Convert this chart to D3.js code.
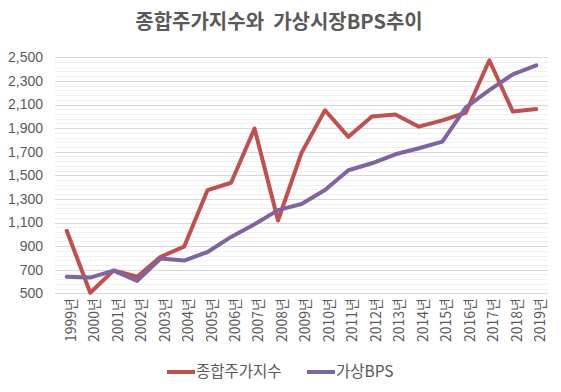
<!DOCTYPE html>
<html>
<head>
<meta charset="utf-8">
<script src="https://cdn.jsdelivr.net/npm/d3@7"></script>
<style>
  body { margin: 0; background: #fff; }
  svg text { font-family: "Noto Sans CJK KR", "Noto Sans", sans-serif; }
</style>
</head>
<body>
<div id="chart"></div>
<script>
var years = ["1999년","2000년","2001년","2002년","2003년","2004년","2005년","2006년","2007년","2008년","2009년",
  "2010년","2011년","2012년","2013년","2014년","2015년","2016년","2017년","2018년","2019년"];
var kospi = [1030, 505, 694, 640, 810, 895, 1375, 1437, 1897, 1117, 1690,
  2051, 1826, 1998, 2015, 1912, 1966, 2030, 2475, 2040, 2062];
var bps = [641, 633, 692, 605, 795, 777, 850, 978, 1085, 1205, 1257,
  1375, 1543, 1602, 1678, 1729, 1785, 2075, 2222, 2355, 2432];
var yTicks = [500, 700, 900, 1100, 1300, 1500, 1700, 1900, 2100, 2300, 2500];
var seriesNames = ["종합주가지수", "가상BPS"];
var seriesColors = ["#C0504D", "#8064A2"];

var W = 561, H = 392;
var plot = { left: 55, right: 548, top: 57.3, bottom: 293.3 };

var svg = d3.select("#chart").append("svg").attr("width", W).attr("height", H);

var x = d3.scaleBand().domain(years).range([plot.left, plot.right]).padding(0);
var y = d3.scaleLinear().domain([500, 2500]).range([plot.bottom, plot.top]);

// minor gridlines
svg.append("g").selectAll("line").data(d3.range(500, 2501, 40)).enter().append("line")
  .attr("x1", plot.left).attr("x2", plot.right)
  .attr("y1", function (d) { return Math.round(y(d)) + 0.5; })
  .attr("y2", function (d) { return Math.round(y(d)) + 0.5; })
  .attr("stroke", "#f0f0f0").attr("stroke-width", 1);

// major gridlines
svg.append("g").selectAll("line").data(yTicks).enter().append("line")
  .attr("x1", plot.left).attr("x2", plot.right)
  .attr("y1", function (d) { return Math.round(y(d)) + 0.5; })
  .attr("y2", function (d) { return Math.round(y(d)) + 0.5; })
  .attr("stroke", "#d9d9d9").attr("stroke-width", 1);

// y labels
svg.append("g").selectAll("text").data(yTicks).enter().append("text")
  .attr("x", 43).attr("y", function (d) { return y(d); })
  .attr("dy", "0.35em")
  .attr("text-anchor", "end")
  .style("font-family", "'Liberation Sans', sans-serif")
  .style("font-size", "14px")
  .attr("fill", "#595959")
  .text(function (d) { return d3.format(",")(d); });

// x labels
svg.append("g").selectAll("text").data(years).enter().append("text")
  .attr("transform", function (d) {
    return "translate(" + (x(d) + x.bandwidth() / 2 + 4) + "," + 298 + ") rotate(-90)";
  })
  .attr("dy", "0.35em")
  .attr("text-anchor", "end")
  .style("font-size", "14px")
  .attr("fill", "#595959")
  .text(function (d) { return d; });

var line = d3.line()
  .x(function (d, i) { return x(years[i]) + x.bandwidth() / 2; })
  .y(function (d) { return y(d); });

[kospi, bps].forEach(function (s, k) {
  svg.append("path").datum(s)
    .attr("fill", "none")
    .attr("stroke", seriesColors[k])
    .attr("stroke-width", 4)
    .attr("stroke-linejoin", "round")
    .attr("stroke-linecap", "round")
    .attr("d", line);
});

// title
svg.append("text")
  .attr("x", 279).attr("y", 29)
  .attr("text-anchor", "middle")
  .style("font-size", "20px")
  .style("font-weight", "bold")
  .style("white-space", "pre")
  .attr("fill", "#595959")
  .text("종합주가지수와  가상시장BPS추이");

// legend
var legendX = [167, 307];
seriesNames.forEach(function (n, k) {
  svg.append("line")
    .attr("x1", legendX[k]).attr("x2", legendX[k] + 28)
    .attr("y1", 372).attr("y2", 372)
    .attr("stroke", seriesColors[k]).attr("stroke-width", 4);
  svg.append("text")
    .attr("x", legendX[k] + 29).attr("y", 372)
    .attr("dy", "0.35em")
    .style("font-size", "15.5px")
    .attr("fill", "#595959")
    .text(n);
});
</script>
</body>
</html>
